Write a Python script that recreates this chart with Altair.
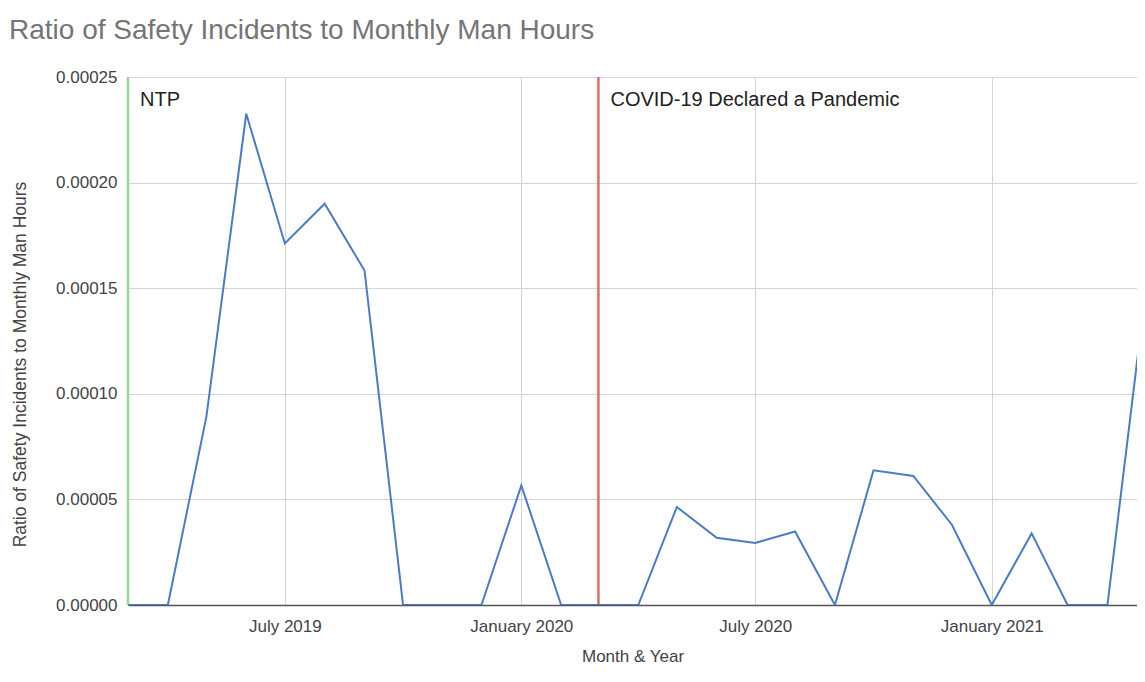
import altair as alt
import pandas as pd

# ---- data ----
months = [
    "2019-03-01", "2019-04-01", "2019-05-01", "2019-06-01", "2019-07-01",
    "2019-08-01", "2019-09-01", "2019-10-01", "2019-11-01", "2019-12-01",
    "2020-01-01", "2020-02-01", "2020-03-01", "2020-04-01", "2020-05-01",
    "2020-06-01", "2020-07-01", "2020-08-01", "2020-09-01", "2020-10-01",
    "2020-11-01", "2020-12-01", "2021-01-01", "2021-02-01", "2021-03-01",
    "2021-04-01", "2021-05-01",
]
ratios = [
    0.0, 0.0, 0.0000892, 0.0002326, 0.0001712,
    0.0001900, 0.0001584, 0.0, 0.0, 0.0,
    0.0000566, 0.0, 0.0, 0.0, 0.0000464,
    0.0000318, 0.0000294, 0.0000348, 0.0, 0.0000638,
    0.0000611, 0.0000380, 0.0, 0.0000339, 0.0,
    0.0, 0.000150,
]

event_dates = ["2019-03-01", "2020-03-01"]
event_labels = ["NTP", "COVID-19 Declared a Pandemic"]
event_colors = ["#93d992", "#e06a6a"]
event_label_y = [0.000239, 0.000239]

y_ticks = [0.0, 0.00005, 0.0001, 0.00015, 0.0002, 0.00025]

FONT = "Liberation Sans"

series = pd.DataFrame({"Month": pd.to_datetime(months), "Ratio": ratios})
events = pd.DataFrame({
    "Month": pd.to_datetime(event_dates),
    "Label": event_labels,
    "Color": event_colors,
    "Ratio": event_label_y,
})

x_scale = alt.Scale(
    domain=[alt.DateTime(year=2019, month=3, date=1),
            alt.DateTime(year=2021, month=4, date=24)],
    nice=False,
)
y_scale = alt.Scale(domain=[0, 0.00025], nice=False, zero=True)

x_axis = alt.Axis(
    title="Month & Year",
    format="%B %Y",
    values=[
        alt.DateTime(year=2019, month=7, date=1),
        alt.DateTime(year=2020, month=1, date=1),
        alt.DateTime(year=2020, month=7, date=1),
        alt.DateTime(year=2021, month=1, date=1),
    ],
    labelAngle=0,
    labelFlush=False,
    labelOverlap=False,
    labelPadding=13,
    titlePadding=14,
    domainColor="#555555",
    domainWidth=1.5,
)
y_axis = alt.Axis(
    title="Ratio of Safety Incidents to Monthly Man Hours",
    format=".5f",
    values=y_ticks,
    domain=False,
    labelPadding=11,
    titleX=-108,
    titleY=287,
    titleBaseline="middle",
    titleFontSize=17.5,
)

rules = alt.Chart(events).mark_rule(strokeWidth=2.5).encode(
    x=alt.X("Month:T", scale=x_scale, axis=x_axis),
    color=alt.Color("Color:N", scale=None),
)

line = alt.Chart(series).mark_line(color="#4a7bc9", strokeWidth=2, clip=True).encode(
    x=alt.X("Month:T", scale=x_scale, axis=x_axis),
    y=alt.Y("Ratio:Q", scale=y_scale, axis=y_axis),
)

labels = alt.Chart(events).mark_text(
    align="left", baseline="middle", dx=12, fontSize=20, font=FONT, color="#222222"
).encode(
    x=alt.X("Month:T", scale=x_scale, axis=x_axis),
    y=alt.Y("Ratio:Q", scale=y_scale, axis=y_axis),
    text="Label:N",
)

chart = alt.layer(rules, line, labels).properties(
    width=1009,
    height=528,
    padding={"left": 120, "top": 69, "right": 0, "bottom": 60},
    autosize=alt.AutoSizeParams(type="none"),
    title=alt.TitleParams(
        "Ratio of Safety Incidents to Monthly Man Hours",
        anchor="start",
        frame="group",
        fontSize=28,
        font=FONT,
        fontWeight="normal",
        color="#757575",
        dx=-119,
        offset=1,
        baseline="alphabetic",
    ),
).configure_view(stroke=None).configure_axis(
    labelFont=FONT,
    titleFont=FONT,
    labelFontSize=17,
    titleFontSize=17,
    labelColor="#444444",
    titleColor="#444444",
    titleFontWeight="normal",
    gridColor="#d4d4d4",
    gridWidth=1,
    ticks=False,
)

chart.save("out.html", embed_options={"renderer": "svg", "actions": False})
